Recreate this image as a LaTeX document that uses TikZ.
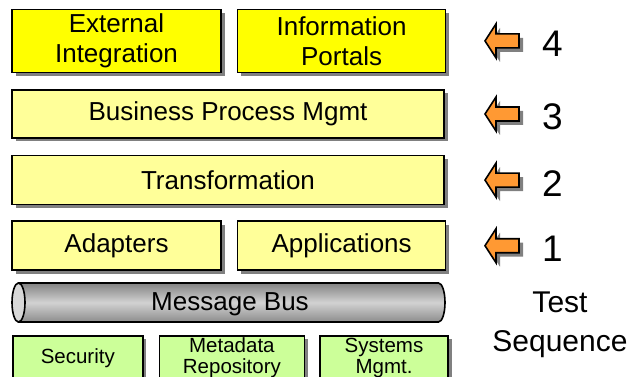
\documentclass[tikz,border=0pt]{standalone}
\usepackage{fontspec}
\setmainfont{Liberation Sans}
\usepackage{tikz}
\usetikzlibrary{positioning,shadows}

\definecolor{layeryellow}{RGB}{255,255,0}
\definecolor{paleyellow}{RGB}{255,255,153}
\definecolor{palegreen}{RGB}{204,255,153}
\definecolor{arroworange}{RGB}{255,153,51}
\definecolor{shadowgray}{RGB}{128,128,128}

\tikzset{
  box/.style={draw,line width=1.6pt,inner sep=0pt,align=center,
    font=\fontsize{26}{30}\selectfont,
    drop shadow={shadow xshift=3.5pt,shadow yshift=-3.5pt,fill=shadowgray,opacity=1}},
  top/.style={box,fill=layeryellow},
  mid/.style={box,fill=paleyellow},
  svc/.style={box,fill=palegreen,font=\fontsize{20.5}{20.5}\selectfont},
  pics/testarrow/.style={code={
    \draw[fill=arroworange,line width=1.6pt,line join=miter,
      drop shadow={shadow xshift=4pt,shadow yshift=-4pt,fill=shadowgray,opacity=1}]
      (0,0) -- (11,-17) -- (11,-7) -- (34,-7) -- (34,7) -- (11,7) -- (11,17) -- cycle;
  }}
}

\begin{document}
\begin{tikzpicture}[x=1pt,y=-1pt,node distance=15pt]
  \useasboundingbox (0,0) rectangle (635,377);
  \clip (0,0) rectangle (635,377);

  \node[mid,minimum width=432pt,minimum height=48pt] (bpm) at (228,114) {Business Process Mgmt};
  \node[top,minimum width=209pt,minimum height=63pt,above=16pt of bpm.north west,anchor=south west] (ext) {External\\Integration};
  \node[top,minimum width=208pt,minimum height=63pt,right=15pt of ext] (portals) {Information\\Portals};
  \node[mid,minimum width=432pt,minimum height=49pt,below=16pt of bpm] (trans) {Transformation};
  \node[mid,minimum width=209pt,minimum height=49pt,below=15pt of trans.south west,anchor=north west] (adapt) {Adapters};
  \node[mid,minimum width=208pt,minimum height=49pt,right=15pt of adapt] (apps) {Applications};

  \path[draw,line width=1.6pt,top color={rgb,255:red,130;green,130;blue,130},
    bottom color={rgb,255:red,140;green,140;blue,140},middle color={rgb,255:red,210;green,210;blue,210}]
    (18.5,283) -- (438.5,283) arc[start angle=-90,end angle=90,x radius=6.5,y radius=19.5]
    -- (18.5,322) -- cycle;
  \draw[line width=1.6pt,fill={rgb,255:red,215;green,215;blue,215}] (18.5,302.5) ellipse[x radius=6.5,y radius=19.5];
  \node[font=\fontsize{26}{30}\selectfont] (bus) at (230,304) {Message Bus};

  \node[svc,minimum width=130pt,minimum height=44pt,anchor=north west] (sec) at (12,335) {Security};
  \node[svc,minimum width=145pt,minimum height=44pt,right=15pt of sec] (meta) {Metadata\\Repository};
  \node[svc,minimum width=128pt,minimum height=44pt,right=14pt of meta] (sys) {Systems\\Mgmt.};

  \coordinate (tipx) at (485,0);
  \coordinate (numx) at (552.5,0);
  \foreach \r/\n in {ext/4,bpm/3,trans/2,adapt/1}{
    \pic at (\r.center -| tipx) {testarrow};
    \node[font=\fontsize{37}{37}\selectfont] (n\n) at ([yshift=-3pt]\r.center -| numx) {\n};
  }

  \node[align=center,font=\fontsize{30}{39}\selectfont] (seq) at (560,325) {Test\\Sequence};
\end{tikzpicture}
\end{document}
